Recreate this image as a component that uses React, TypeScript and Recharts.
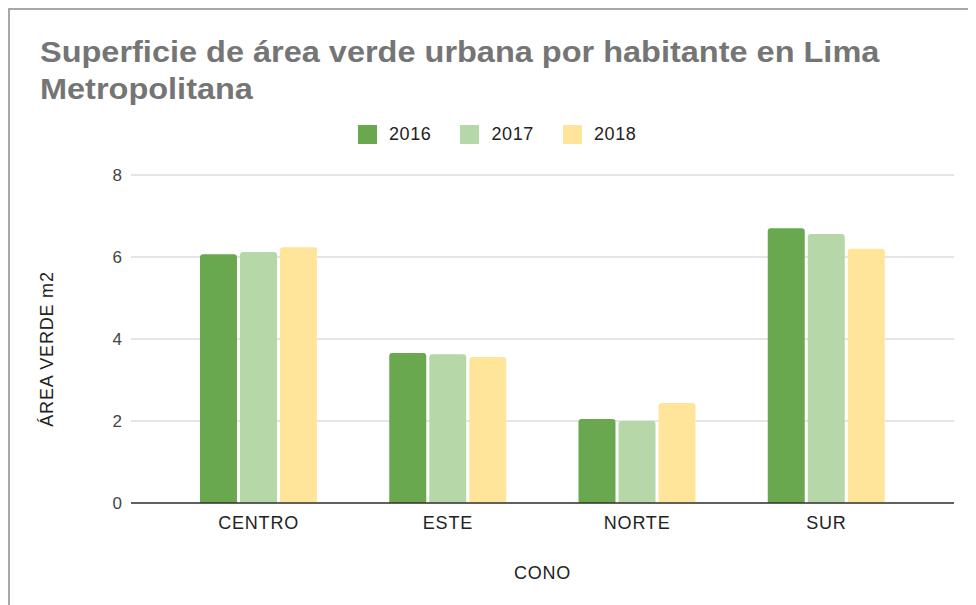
import React from 'react';
import { BarChart, Bar, XAxis, YAxis, CartesianGrid } from 'recharts';

const conos = ['CENTRO', 'ESTE', 'NORTE', 'SUR'];
const serie2016 = [6.07, 3.66, 2.05, 6.7];
const serie2017 = [6.12, 3.63, 2.0, 6.56];
const serie2018 = [6.24, 3.56, 2.44, 6.2];
const yTicks = [0, 2, 4, 6, 8];

const series = [
  { key: 'y2016', name: '2016', color: '#6aa84f', values: serie2016 },
  { key: 'y2017', name: '2017', color: '#b6d7a8', values: serie2017 },
  { key: 'y2018', name: '2018', color: '#ffe599', values: serie2018 },
];

const data = conos.map((cono, i) => {
  const row: Record<string, string | number> = { cono };
  series.forEach(s => { row[s.key] = s.values[i]; });
  return row;
});

const FONT = '"Liberation Sans", Arial, sans-serif';

const App: React.FC = () => {
  return (
    <div style={{ position: 'relative', width: 968, height: 597, fontFamily: FONT }}>
      <div
        style={{
          position: 'absolute', left: 0, top: 0, right: 0, bottom: 0,
          borderTop: '2px solid #a8a8a8', borderLeft: '2px solid #a8a8a8',
          pointerEvents: 'none',
        }}
      />
      <div
        style={{
          position: 'absolute', left: 32, top: 26, width: 820,
          fontSize: 29, lineHeight: '37px', fontWeight: 700, color: '#757575',
          transform: 'scaleX(1.12)', transformOrigin: 'left top',
        }}
      >
        Superficie de área verde urbana por habitante en Lima Metropolitana
      </div>
      <div style={{ position: 'absolute', left: 350, top: 116, display: 'flex', alignItems: 'center' }}>
        {series.map(s => (
          <div key={s.key} style={{ display: 'flex', alignItems: 'center', marginRight: 29 }}>
            <div style={{ width: 19, height: 19, background: s.color, marginRight: 12 }} />
            <span style={{ fontSize: 18, letterSpacing: 0.6, color: '#222' }}>{s.name}</span>
          </div>
        ))}
      </div>
      <BarChart
        width={968}
        height={597}
        data={data}
        margin={{ top: 167, right: 22, bottom: 22, left: 73 }}
        barSize={37}
        barGap={3}
      >
        <CartesianGrid vertical={false} stroke="#cccccc" />
        <XAxis
          dataKey="cono"
          height={80}
          padding={{ left: 33, right: 33 }}
          axisLine={{ stroke: '#333333', strokeWidth: 1.5 }}
          tickLine={false}
          tickSize={0}
          tickMargin={13}
          tick={{ fill: '#222', fontSize: 18, fontFamily: FONT, letterSpacing: 0.8 }}
          label={({ viewBox }: any) => (
            <text
              x={viewBox.x + viewBox.width / 2}
              y={viewBox.y + 76}
              textAnchor="middle"
              fill="#222"
              fontSize={18}
              fontFamily={FONT}
              letterSpacing={0.8}
            >
              CONO
            </text>
          )}
        />
        <YAxis
          width={50}
          domain={[0, 8]}
          ticks={yTicks}
          axisLine={false}
          tickLine={false}
          tickSize={0}
          tickMargin={9}
          tick={{ fill: '#444', fontSize: 17, fontFamily: FONT }}
          label={({ viewBox }: any) => {
            const cx = viewBox.x - 34;
            const cy = viewBox.y + viewBox.height / 2 + 10;
            return (
              <text
                x={cx}
                y={cy}
                transform={`rotate(-90 ${cx} ${cy})`}
                textAnchor="middle"
                dominantBaseline="central"
                fill="#222"
                fontSize={18}
                fontFamily={FONT}
                letterSpacing={0.8}
              >
                ÁREA VERDE m2
              </text>
            );
          }}
        />
        {series.map(s => (
          <Bar
            key={s.key}
            dataKey={s.key}
            name={s.name}
            fill={s.color}
            radius={[3, 3, 0, 0]}
            isAnimationActive={false}
          />
        ))}
      </BarChart>
    </div>
  );
};

export default App;
